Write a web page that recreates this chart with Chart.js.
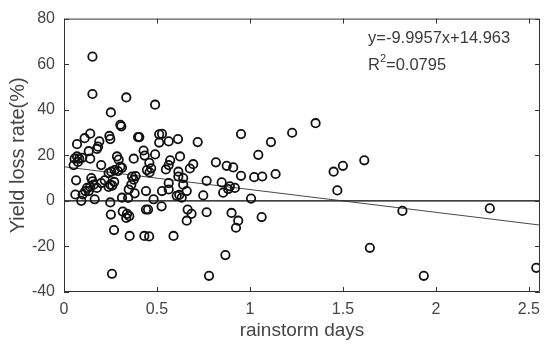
<!DOCTYPE html>
<html>
<head>
<meta charset="utf-8">
<script src="https://cdn.jsdelivr.net/npm/chart.js@4.4.0/dist/chart.umd.min.js"></script>
<style>
  html, body { margin: 0; padding: 0; background: #fff; }
  canvas { display: block; }
</style>
</head>
<body>
<canvas id="myChart" width="550" height="346"></canvas>
<script>
// rainstorm days (x) and yield loss rate % (y)
const daysX = [
  0.153, 0.153, 0.335, 0.49, 0.252, 0.303, 0.308, 1.353, 1.227, 0.952, 1.113, 1.045,
  0.141, 0.111, 0.07, 0.19, 0.183, 0.177, 0.244, 0.249, 0.398, 0.405, 0.512, 0.527,
  0.512, 0.563, 0.613, 0.719, 0.133, 0.428, 0.434, 0.49,
  0.141, 0.07, 0.057, 0.082, 0.075, 0.052, 0.2, 0.285, 0.294, 0.303, 0.312, 0.375,
  0.459, 0.571, 0.563, 0.624, 0.817, 0.695, 0.875, 0.91, 1.615, 1.50, 0.098,
  0.272, 0.254, 0.29, 0.469, 0.446, 0.548, 0.677, 0.615, 0.615, 0.641, 1.45, 0.366,
  0.385, 0.375, 0.46, 0.952, 1.023, 1.066, 1.138, 0.147, 0.24,
  0.065, 0.154, 0.16, 0.141, 0.124, 0.177, 0.2, 0.219, 0.249, 0.24, 0.362, 0.767,
  0.848, 0.856, 0.892, 0.919, 0.883, 0.641, 0.66, 0.633, 0.606, 0.749, 1.006, 0.061,
  0.1, 0.093, 0.165, 0.133, 0.115, 0.312, 0.345, 0.348, 0.38, 0.441, 0.482, 0.527,
  0.563, 0.563, 0.62, 1.47, 0.26, 0.27,
  0.249, 0.252, 0.269, 0.258, 0.316, 0.339, 0.351, 0.335, 0.353, 0.441, 0.452, 0.432,
  0.458, 0.525, 0.589, 0.665, 0.686, 0.66, 0.767, 0.78, 0.868, 0.901, 0.937, 0.925,
  1.063, 1.82, 1.645, 1.935, 2.29, 2.54
];
const lossY = [
  63.3, 46.9, 45.4, 42.2, 38.8, 33.4, 32.7, 34.1, 29.9, 29.3, 25.8, 20.2,
  29.5, 27.5, 24.9, 26.1, 23.8, 22.8, 28.5, 27.1, 28.0, 28.0, 29.2, 29.4,
  25.6, 26.1, 27.1, 25.8, 21.8, 22.1, 19.9, 20.4,
  18.5, 19.5, 18.5, 18.5, 17.1, 15.7, 15.7, 19.5, 18.1, 15.0, 14.5, 18.5,
  16.7, 17.8, 15.7, 19.5, 16.9, 16.1, 15.4, 14.7, 17.8, 15.4, 18.9,
  13.5, 12.8, 13.1, 14.3, 13.5, 13.8, 14.2, 12.8, 10.7, 10.0, 12.8, 10.7,
  10.9, 9.3, 12.5, 11.0, 10.4, 10.7, 11.8, 10.0, 12.2,
  9.0, 8.6, 7.1, 6.1, 5.7, 5.7, 7.8, 9.0, 7.1, 6.1, 7.1, 8.8,
  8.1, 3.6, 6.4, 5.7, 5.2, 7.1, 4.3, 1.4, 2.2, 2.4, 1.0, 2.8,
  2.8, 0.0, 0.7, 4.3, 4.3, 1.4, 1.3, 5.0, 3.3, 4.3, 0.7, 4.3,
  7.8, 5.0, 2.6, 4.6, 6.7, 8.3,
  -0.7, -6.0, -12.8, -32.0, -4.7, -5.7, -6.7, -7.5, -15.4, -3.8, -3.8, -15.4,
  -15.6, -2.4, -15.4, -3.8, -5.7, -8.7, -5.0, -32.9, -23.8, -5.3, -8.7, -11.8,
  -7.1, -4.4, -20.6, -32.9, -3.3, -29.4
];

// fitted line end points and the zero line
const fitX = [0, 2.56];
const fitY = [14.963, -10.626];
const zeroX = [0, 2.56];
const zeroY = [0, 0];

const xTicks = [0, 0.5, 1, 1.5, 2, 2.5];
const yTicks = [-40, -20, 0, 20, 40, 60, 80];

const eqText = 'y=-9.9957x+14.963';
const r2Text = ['R', '2', '=0.0795'];

const FONT = '"Liberation Sans", Arial, sans-serif';

const pts = daysX.map((v, i) => ({ x: v, y: lossY[i] }));
const fitPts = fitX.map((v, i) => ({ x: v, y: fitY[i] }));
const zeroPts = zeroX.map((v, i) => ({ x: v, y: zeroY[i] }));

const frameTicks = {
  id: 'frameTicks',
  afterDraw(chart) {
    const { ctx, chartArea: a, scales: { x, y } } = chart;
    ctx.save();
    ctx.strokeStyle = '#333';
    ctx.lineWidth = 1;
    ctx.beginPath();
    ctx.rect(a.left + 0.5, a.top + 0.5, a.right - a.left - 1, a.bottom - a.top - 1);
    x.ticks.forEach(t => {
      const px = Math.round(x.getPixelForValue(t.value)) + 0.5;
      ctx.moveTo(px, a.bottom); ctx.lineTo(px, a.bottom - 5);
      ctx.moveTo(px, a.top); ctx.lineTo(px, a.top + 5);
    });
    y.ticks.forEach(t => {
      const py = Math.round(y.getPixelForValue(t.value)) + 0.5;
      ctx.moveTo(a.left, py); ctx.lineTo(a.left + 5, py);
      ctx.moveTo(a.right, py); ctx.lineTo(a.right - 5, py);
    });
    ctx.stroke();

    // equation text
    ctx.fillStyle = '#3a3a3a';
    ctx.textBaseline = 'middle';
    ctx.textAlign = 'left';
    ctx.font = '16.5px ' + FONT;
    const tx = a.left + 304;
    ctx.fillText(eqText, tx, 38);
    ctx.fillText(r2Text[0], tx, 65);
    let w = ctx.measureText(r2Text[0]).width;
    ctx.font = '11px ' + FONT;
    ctx.fillText(r2Text[1], tx + w, 59);
    w += ctx.measureText(r2Text[1]).width;
    ctx.font = '16.5px ' + FONT;
    ctx.fillText(r2Text[2], tx + w, 65);
    ctx.restore();
  }
};

new Chart(document.getElementById('myChart'), {
  data: {
    datasets: [
      {
        type: 'scatter',
        data: pts,
        pointStyle: 'circle',
        pointRadius: 4.2,
        pointBorderWidth: 1.8,
        pointBorderColor: '#111',
        pointBackgroundColor: 'rgba(0,0,0,0)',
        order: 0
      },
      {
        type: 'line',
        data: fitPts,
        borderColor: '#333',
        borderWidth: 0.9,
        pointRadius: 0,
        fill: false,
        order: 1
      },
      {
        type: 'line',
        data: zeroPts,
        borderColor: '#000',
        borderWidth: 1.2,
        pointRadius: 0,
        fill: false,
        order: 2
      }
    ]
  },
  options: {
    responsive: false,
    animation: false,
    devicePixelRatio: 1,
    layout: { padding: { top: 11, right: 10, left: 0, bottom: 0 } },
    plugins: { legend: { display: false }, tooltip: { enabled: false } },
    scales: {
      x: {
        type: 'linear',
        min: 0,
        max: 2.56,
        afterBuildTicks: s => { s.ticks = xTicks.map(v => ({ value: v })); },
        afterFit: s => { s.height = 54; },
        grid: { drawOnChartArea: false, drawTicks: false },
        border: { display: false },
        ticks: {
          padding: 8,
          color: '#454545',
          font: { family: FONT, size: 16 },
          callback: v => String(v)
        },
        title: {
          display: true,
          text: 'rainstorm days',
          color: '#454545',
          font: { family: FONT, size: 19 },
          padding: { top: 0, bottom: 4 }
        }
      },
      y: {
        type: 'linear',
        min: -40,
        max: 80,
        afterBuildTicks: s => { s.ticks = yTicks.map(v => ({ value: v })); },
        afterFit: s => { s.width = 64; },
        grid: { drawOnChartArea: false, drawTicks: false },
        border: { display: false },
        ticks: {
          padding: 9,
          color: '#454545',
          font: { family: FONT, size: 16 },
          callback: v => String(v)
        },
        title: {
          display: true,
          text: 'Yield loss rate(%)',
          color: '#454545',
          font: { family: FONT, size: 20 },
          padding: { top: 6, bottom: 0 }
        }
      }
    }
  },
  plugins: [frameTicks]
});
</script>
</body>
</html>
